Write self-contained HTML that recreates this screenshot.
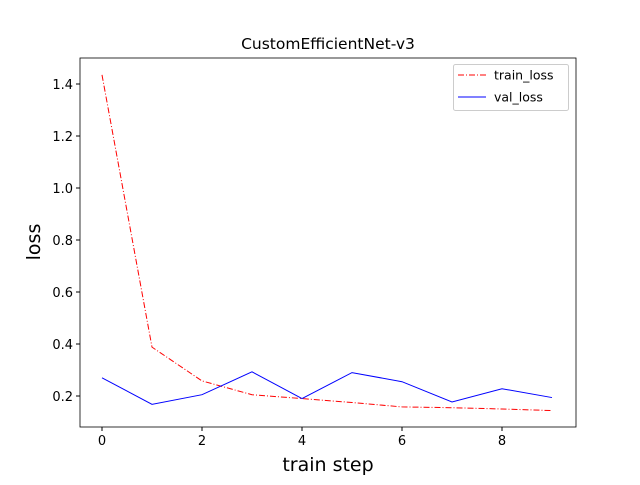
<!DOCTYPE html>
<html><head><meta charset="utf-8"><style>body{margin:0;background:#fff}svg{font-family:"DejaVu Sans","Liberation Sans",sans-serif}</style></head>
<body>
<svg id="chart" width="640" height="480"></svg>
<script>
const steps=[0,1,2,3,4,5,6,7,8,9];
const trainLoss=[1.435,0.388,0.258,0.205,0.19,0.175,0.158,0.155,0.15,0.144];
const valLoss=[0.27,0.168,0.205,0.293,0.19,0.29,0.255,0.177,0.228,0.194];
const xTicks=[0,2,4,6,8];
const yTicks=[0.2,0.4,0.6,0.8,1.0,1.2,1.4];
const L=80,R=576,T=58,B=427;
const x=v=>102+v*50;
const y=v=>396-(v-0.2)*260;
const svg=document.getElementById('chart');
const NS='http://www.w3.org/2000/svg';
function mk(tag,attrs,parent){const e=document.createElementNS(NS,tag);for(const k in attrs)e.setAttribute(k,attrs[k]);(parent||svg).appendChild(e);return e;}
let t=mk('text',{x:328,y:49,'text-anchor':'middle','font-size':15.5});t.textContent='CustomEfficientNet-v3';


xTicks.forEach(v=>{mk('line',{x1:x(v),x2:x(v),y1:B,y2:B+4,stroke:'#000'});const l=mk('text',{x:x(v),y:B+18,'text-anchor':'middle','font-size':13});l.textContent=v;

});
yTicks.forEach(v=>{mk('line',{x1:L-4,x2:L,y1:y(v),y2:y(v),stroke:'#000'});const l=mk('text',{x:L-7,y:y(v)+5,'text-anchor':'end','font-size':13});l.textContent=v.toFixed(1);

});
t=mk('text',{x:328,y:471,'text-anchor':'middle','font-size':19});t.textContent='train step';


t=mk('text',{x:40,y:242,'text-anchor':'middle','font-size':19,transform:'rotate(-90 40 242)'});t.textContent='loss';


const pts=a=>steps.map((s,i)=>x(s)+','+y(a[i])).join(' ');
let p=mk('polyline',{points:pts(trainLoss),fill:'none',stroke:'#f00','stroke-width':1,'stroke-dasharray':'6,2,1,2'});


p=mk('polyline',{points:pts(valLoss),fill:'none',stroke:'#00f','stroke-width':1});


mk('rect',{x:L,y:T,width:R-L,height:B-T,fill:'none',stroke:'#000','stroke-width':0.8});
const g=mk('g',{});


mk('rect',{x:453.5,y:64.5,width:115,height:46,rx:2,fill:'#fff',stroke:'#ccc'},g);
mk('line',{x1:458,x2:486,y1:75,y2:75,stroke:'#f00','stroke-dasharray':'6,2,1,2'},g);
t=mk('text',{x:494,y:79.5,'font-size':12.5},g);t.textContent='train_loss';
mk('line',{x1:458,x2:486,y1:97,y2:97,stroke:'#00f'},g);
t=mk('text',{x:494,y:101.5,'font-size':12.5},g);t.textContent='val_loss';
</script>
</body></html>
